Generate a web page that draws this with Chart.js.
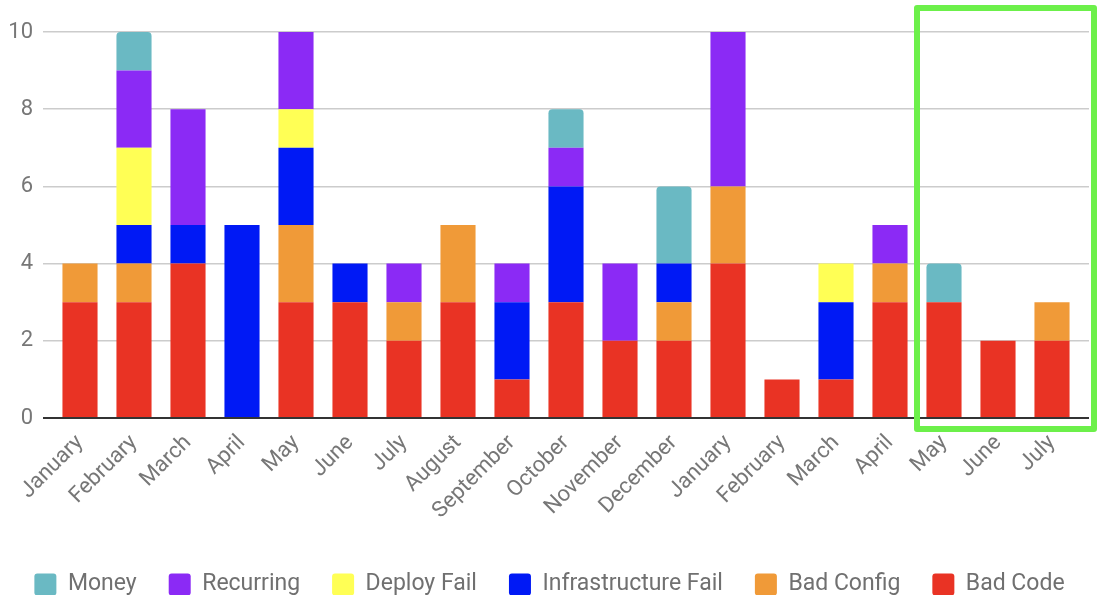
<!DOCTYPE html>
<html lang="en">
<head>
    <meta charset="UTF-8">
    <title>Incidents per month</title>
    <script src="https://cdn.jsdelivr.net/npm/chart.js"></script>
    <style>
        html, body {
            margin: 0;
            padding: 0;
            background: #fff;
        }
        .chart-box {
            position: relative;
            width: 1099px;
            height: 595px;
        }
    </style>
</head>
<body>
    <div class="chart-box">
        <canvas id="incidentChart"></canvas>
    </div>
    <script>
        // Months (the later labels are blurred in the source, assumed to continue the year)
        const months = ['January', 'February', 'March', 'April', 'May', 'June', 'July', 'August',
            'September', 'October', 'November', 'December',
            'January', 'February', 'March', 'April', 'May', 'June', 'July'];

        // Incident counts per category
        const badCode       = [3, 3, 4, 0, 3, 3, 2, 3, 1, 3, 2, 2, 4, 1, 1, 3, 3, 2, 2];
        const badConfig     = [1, 1, 0, 0, 2, 0, 1, 2, 0, 0, 0, 1, 2, 0, 0, 1, 0, 0, 1];
        const infraFail     = [0, 1, 1, 5, 2, 1, 0, 0, 2, 3, 0, 1, 0, 0, 2, 0, 0, 0, 0];
        const deployFail    = [0, 2, 0, 0, 1, 0, 0, 0, 0, 0, 0, 0, 0, 0, 1, 0, 0, 0, 0];
        const recurring     = [0, 2, 3, 0, 2, 0, 1, 0, 1, 1, 2, 0, 4, 0, 0, 1, 0, 0, 0];
        const money         = [0, 1, 0, 0, 0, 0, 0, 0, 0, 1, 0, 2, 0, 0, 0, 0, 1, 0, 0];

        const yTicks = [0, 2, 4, 6, 8, 10];

        // categories highlighted by the green box (first and last index)
        const highlightFrom = 16, highlightTo = 18;

        // Green highlight box drawn around the last three months
        const highlightBox = {
            id: 'highlightBox',
            afterDraw(chart) {
                const x = chart.scales.x;
                const y = chart.scales.y;
                const step = x.getPixelForValue(1) - x.getPixelForValue(0);
                const left = x.getPixelForValue(highlightFrom) - step / 2;
                const right = x.getPixelForValue(highlightTo) + step / 2 + 15;
                const top = y.getPixelForValue(10) - 24;
                const bottom = y.getPixelForValue(0) + 11;
                const ctx = chart.ctx;
                ctx.save();
                ctx.strokeStyle = '#6cf04a';
                ctx.lineWidth = 6;
                ctx.lineJoin = 'round';
                ctx.strokeRect(left, top, right - left, bottom - top);
                ctx.restore();
            }
        };

        const ds = (label, data, color, radius) => ({
            label: label,
            data: data,
            backgroundColor: color,
            borderWidth: 0,
            borderRadius: radius || 0,
            borderSkipped: false,
            categoryPercentage: 1,
            barPercentage: 0.65
        });

        const gridColor = ctx => ctx.tick.value === 0 ? '#333' : '#ccc';
        const gridWidth = ctx => ctx.tick.value === 0 ? 2 : 1.5;

        new Chart(document.getElementById('incidentChart'), {
            type: 'bar',
            data: {
                labels: months,
                datasets: [
                    ds('Bad Code', badCode, '#e93324'),
                    ds('Bad Config', badConfig, '#f09a38'),
                    ds('Infrastructure Fail', infraFail, '#0019f5'),
                    ds('Deploy Fail', deployFail, '#ffff55'),
                    ds('Recurring', recurring, '#8b2af5'),
                    ds('Money', money, '#6ab9c3', { topLeft: 4, topRight: 4 })
                ]
            },
            options: {
                responsive: true,
                maintainAspectRatio: false,
                animation: false,
                layout: {
                    padding: { top: 32, right: 0, left: 0, bottom: -11 }
                },
                plugins: {
                    tooltip: { enabled: false },
                    legend: {
                        position: 'bottom',
                        reverse: true,
                        labels: {
                            boxWidth: 22,
                            boxHeight: 22,
                            padding: 32,
                            useBorderRadius: true,
                            borderRadius: 3,
                            color: '#707070',
                            font: { family: 'Roboto', size: 23 }
                        }
                    }
                },
                scales: {
                    x: {
                        stacked: true,
                        grid: { display: false, drawTicks: false },
                        border: { display: false },
                        afterFit(axis) {
                            axis.height = 123;
                        },
                        ticks: {
                            color: '#777',
                            font: { family: 'Roboto', size: 22 },
                            minRotation: 45,
                            maxRotation: 45,
                            autoSkip: false,
                            padding: 12
                        }
                    },
                    y: {
                        stacked: true,
                        min: 0,
                        max: 10,
                        afterBuildTicks(axis) {
                            axis.ticks = yTicks.map(v => ({ value: v }));
                        },
                        afterFit(axis) {
                            axis.width = 53;
                        },
                        grid: {
                            color: gridColor,
                            lineWidth: gridWidth,
                            drawTicks: true,
                            tickLength: 10
                        },
                        border: { display: false },
                        ticks: {
                            color: '#777',
                            font: { family: 'Roboto', size: 22 },
                            padding: 10
                        }
                    },
                    yRight: {
                        position: 'right',
                        min: 0,
                        max: 10,
                        afterBuildTicks(axis) {
                            axis.ticks = yTicks.map(v => ({ value: v }));
                        },
                        afterFit(axis) {
                            axis.width = 20;
                        },
                        grid: {
                            color: gridColor,
                            lineWidth: gridWidth,
                            drawOnChartArea: false,
                            drawTicks: true,
                            tickLength: 10
                        },
                        border: { display: false },
                        ticks: { display: false }
                    }
                }
            },
            plugins: [highlightBox]
        });
    </script>
</body>
</html>
